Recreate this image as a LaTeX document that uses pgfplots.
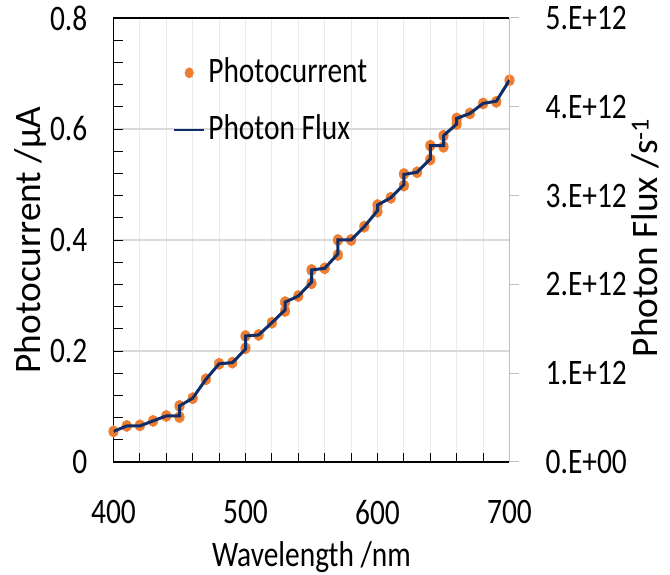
\documentclass[border=0pt]{standalone}
\usepackage{fontspec}
\setmainfont{Carlito}[FakeStretch=0.82]
\newfontfamily\rotfont{Carlito}
\usepackage{pgfplots}
\usepackage{pgfplotstable}
\pgfplotsset{compat=1.18}

\definecolor{pcorange}{HTML}{ED7D31}
\definecolor{fluxblue}{HTML}{0F2D69}
\definecolor{vgrid}{HTML}{EBEBEB}
\definecolor{hgrid}{HTML}{D9D9D9}
\definecolor{rightgray}{HTML}{BFBFBF}

% photocurrent (uA)
\pgfplotstableread{
wl pc
400 0.055
410 0.065
420 0.066
430 0.074
440 0.083
450 0.081
450 0.101
460 0.115
470 0.149
480 0.177
490 0.179
500 0.205
500 0.227
510 0.229
520 0.251
530 0.272
530 0.288
540 0.299
550 0.322
550 0.346
560 0.349
570 0.373
570 0.400
580 0.400
590 0.424
600 0.451
600 0.463
610 0.476
620 0.498
620 0.519
630 0.522
640 0.545
640 0.570
650 0.568
650 0.588
660 0.609
660 0.619
670 0.628
680 0.646
690 0.649
700 0.688
}\pcdata

% photon flux (1/s)
\pgfplotstableread{
wl flux
400 3.44e11
410 4.06e11
420 4.06e11
430 4.63e11
440 5.19e11
450 5.19e11
450 6.31e11
460 7.19e11
470 9.31e11
480 1.106e12
490 1.119e12
500 1.269e12
500 1.419e12
510 1.431e12
520 1.569e12
530 1.713e12
530 1.800e12
540 1.869e12
550 2.025e12
550 2.163e12
560 2.181e12
570 2.344e12
570 2.500e12
580 2.500e12
590 2.650e12
600 2.831e12
600 2.894e12
610 2.975e12
620 3.125e12
620 3.238e12
630 3.263e12
640 3.413e12
640 3.563e12
650 3.563e12
650 3.675e12
660 3.806e12
660 3.869e12
670 3.925e12
680 4.038e12
690 4.063e12
700 4.300e12
}\fluxdata

\begin{document}
\fontsize{36}{43}\selectfont
\begin{tikzpicture}
\pgfplotsset{
  every axis/.append style={
    scale only axis, width=396bp, height=444bp,
    xmin=400, xmax=700,
    /pgf/number format/assume math mode=true,
  },
}
\begin{axis}[
  ymin=0, ymax=0.8,
  axis x line*=box, axis y line*=left,
  axis line style={black, line width=1.1bp},
  xtick={400,500,600,700}, xticklabels={400,500,600,700},
  minor xtick={420,440,...,680},
  ytick={0,0.2,0.4,0.6,0.8}, yticklabels={0,0.2,0.4,0.6,0.8},
  minor ytick={0.04,0.08,...,0.77},
  xtick pos=left, ytick pos=left,
  tick align=inside,
  major tick length=9bp, minor tick length=9bp,
  tick style={black, line width=1bp},
  xmajorgrids, xminorgrids, ymajorgrids,
  grid style={vgrid, line width=1bp},
  major y grid style={hgrid, line width=1.2bp},
  xticklabel style={inner sep=0pt, anchor=north, yshift=-38bp},
  yticklabel style={inner sep=0pt, anchor=east, xshift=-26bp},
  xlabel={Wavelength /nm},
  xlabel style={at={(rel axis cs:0.5,-0.214)}, anchor=center},
  ylabel={Photocurrent /µA},
  ylabel style={at={(rel axis cs:-0.210,0.5)}, anchor=center,
    font=\rotfont\fontsize{37.5}{44}\selectfont},
]
\addplot[only marks, mark=*, mark size=4.8bp, color=pcorange,
  mark options={yscale=1.2}] table[x=wl, y=pc] {\pcdata};
\coordinate (SW) at (rel axis cs:0,0);
\end{axis}

\begin{axis}[
  ymin=0, ymax=5e12,
  axis x line=none, axis y line*=right,
  y axis line style={rightgray, line width=1.1bp},
  ytick={0,1e12,2e12,3e12,4e12,5e12},
  yticklabels={0.E+00,1.E+12,2.E+12,3.E+12,4.E+12,5.E+12},
  scaled y ticks=false,
  tick align=outside, major tick length=9bp,
  ytick style={rightgray, line width=1bp},
  yticklabel style={inner sep=0pt, anchor=west, xshift=27bp},
  ylabel={Photon Flux /s\textsuperscript{-1}},
  ylabel style={at={(rel axis cs:1.343,0.505)}, anchor=center,
    font=\rotfont\fontsize{37.5}{44}\selectfont},
  legend cell align=left,
  legend style={draw=none, fill=none, inner sep=0pt,
    at={(rel axis cs:0.150,0.812)}, anchor=west,
    row sep=27bp, column sep=3bp,
    nodes={inner sep=0pt}},
]
\addlegendimage{only marks, mark=*, mark size=4.3bp, pcorange,
  mark options={xshift=6.5bp, yscale=1.2}}
\addlegendentry{Photocurrent}
\addplot[fluxblue, line width=3bp, no marks,
  legend image code/.code={\draw[fluxblue, line width=2.2bp] (0bp,0bp) -- (30bp,0bp);}]
  table[x=wl, y=flux] {\fluxdata};
\addlegendentry{Photon Flux}
\end{axis}

\pgfresetboundingbox
\path ([shift={(-113.5bp,-113bp)}]SW) rectangle ++(670bp,575bp);
\end{tikzpicture}
\end{document}
